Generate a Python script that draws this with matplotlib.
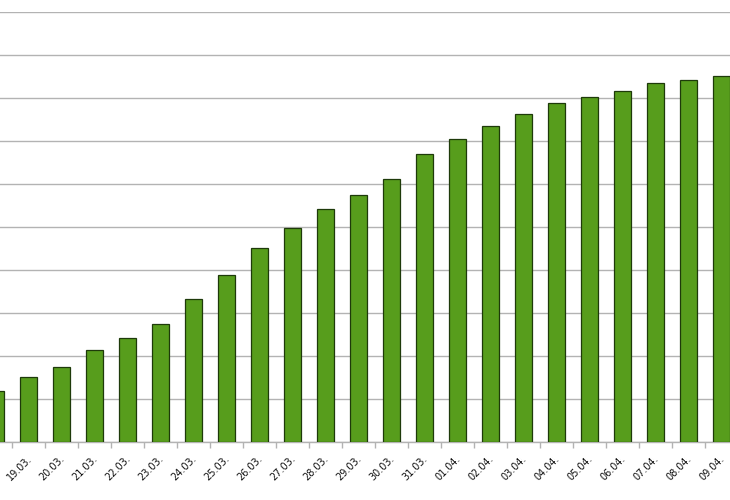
import matplotlib
matplotlib.use('Agg')
import numpy as np
from matplotlib import pyplot as plt
from matplotlib import transforms

dates = ['18.03.', '19.03.', '20.03.', '21.03.', '22.03.', '23.03.', '24.03.',
         '25.03.', '26.03.', '27.03.', '28.03.', '29.03.', '30.03.', '31.03.',
         '01.04.', '02.04.', '03.04.', '04.04.', '05.04.', '06.04.', '07.04.',
         '08.04.', '09.04.', '10.04.']
values = [119, 151, 174, 214, 242, 274, 333, 388, 451, 498, 542, 574,
          612, 670, 705, 735, 763, 788, 802, 816, 835, 842, 851]

bar_color = '#579d1c'
grid_color = '#b3b3b3'

if __name__ == '__main__':
    fig = plt.figure(figsize=(7.3, 5.0), dpi=100)
    ax = fig.add_axes([0, 0.116, 1, 0.86])

    x = np.arange(len(values))
    ax.bar(x, values, width=0.52, color=bar_color, edgecolor='#1e3a0a',
           linewidth=0.9, zorder=3)

    ax.set_yticks(np.arange(0, 1001, 100))
    ax.yaxis.grid(True, color=grid_color, linewidth=1.0, zorder=0)
    ax.tick_params(axis='y', left=False, labelleft=False)

    for s in ['left', 'right', 'top']:
        ax.spines[s].set_visible(False)
    ax.spines['bottom'].set_color(grid_color)
    ax.spines['bottom'].set_linewidth(1.0)

    # category ticks sit between the bars
    ax.set_xticks(np.arange(len(dates)) - 0.5)
    ax.set_xticklabels([])
    ax.tick_params(axis='x', direction='out', length=4, color=grid_color, width=1)

    # the picture is a crop of a wider chart
    ax.set_xlim(0.136, 22.258)
    ax.set_ylim(0, 1000)

    trans = transforms.blended_transform_factory(ax.transData, ax.transAxes)
    off = transforms.ScaledTranslation(-1.4 / 72, -8.6 / 72, fig.dpi_scale_trans)
    for i, d in enumerate(dates):
        ax.text(i, 0, d, transform=trans + off, rotation=45, ha='right',
                va='top', fontsize=7, color='#111111', clip_on=False,
                rotation_mode='anchor')

    plt.savefig('out.png', dpi=100)
